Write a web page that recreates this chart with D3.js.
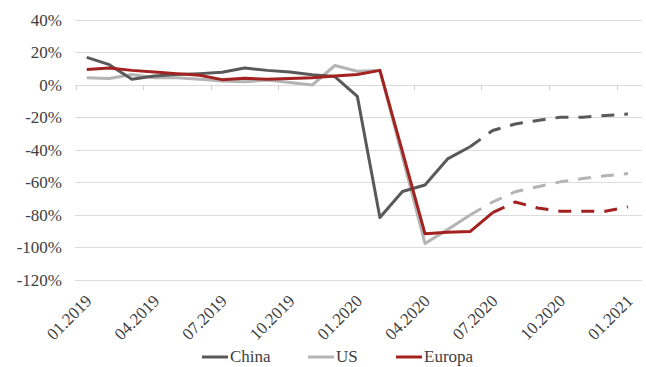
<!DOCTYPE html>
<html>
<head>
<meta charset="utf-8">
<script src="https://cdn.jsdelivr.net/npm/d3@7"></script>
<style>
  html, body { margin: 0; padding: 0; background: #ffffff; }
  svg { display: block; }
  text { font-family: "Liberation Serif", "DejaVu Serif", serif; fill: #404040; }
</style>
</head>
<body>
<svg id="chart" width="646" height="367"></svg>
<script>
// Monthly categories, 01.2019 – 01.2021
const months = [
  "01.2019","02.2019","03.2019","04.2019","05.2019","06.2019","07.2019","08.2019","09.2019",
  "10.2019","11.2019","12.2019","01.2020","02.2020","03.2020","04.2020","05.2020","06.2020",
  "07.2020","08.2020","09.2020","10.2020","11.2020","12.2020","01.2021"
];
const tickLabels = ["01.2019","04.2019","07.2019","10.2019","01.2020","04.2020","07.2020","10.2020","01.2021"];
const yTicks = [40, 20, 0, -20, -40, -60, -80, -100, -120];

// Year-over-year change, % (observed part starts at 01.2019)
const chinaActual = [17, 12.5, 3.5, 5.5, 6.5, 7, 7.8, 10.5, 9, 8, 6.3, 5.2, -7, -81.5, -65.5, -61.5, -45.5, -38];
const usActual = [4.5, 4, 6.5, 4.5, 4.5, 3.5, 2.5, 2, 3, 1.5, 0, 12, 8.5, 9, -44, -97.5, -89, -80];
const europaActual = [9.6, 10.5, 9, 8, 7, 6, 3.3, 4.2, 3.5, 4, 4.5, 5.5, 6.5, 9, -41, -91.6, -90.6, -90.2, -78.5];

// Projection part, each starting at the last observed month
const chinaForecastStart = "06.2020";
const chinaForecast = [-38, -28, -24, -21.8, -19.8, -19.8, -18.8, -17.8];
const usForecastStart = "06.2020";
const usForecast = [-80, -72, -65.7, -62.6, -59.6, -57.5, -55.9, -54.5];
const europaForecastStart = "07.2020";
const europaForecast = [-78.5, -72, -75.7, -77.7, -77.7, -77.7, -75];

const seriesNames = ["China", "US", "Europa"];
const colors = { China: "#595959", US: "#b4b4b4", Europa: "#a3221f" };

const svg = d3.select("#chart");
const plotLeft = 75, plotRight = 642;
const fontSize = 17;

const x = d3.scaleBand().domain(months).range([75.5, 639.2]).paddingInner(0).paddingOuter(0);
const cx = m => x(m) + x.bandwidth() / 2;
const y = d3.scaleLinear().domain([-120, 40]).range([280, 20]);

// Horizontal gridlines
svg.append("g").selectAll("line").data(yTicks).join("line")
  .attr("x1", plotLeft).attr("x2", plotRight)
  .attr("y1", d => y(d)).attr("y2", d => y(d))
  .attr("stroke", "#dcdcdc").attr("stroke-width", 1).attr("shape-rendering", "crispEdges");

// Y axis labels
const yAxis = d3.axisLeft(y).tickValues(yTicks).tickSize(0).tickPadding(0)
  .tickFormat(d => d + "%");
svg.append("g").attr("transform", "translate(62,0)").call(yAxis)
  .call(g => g.select(".domain").remove())
  .selectAll("text")
  .style("font-family", "'Liberation Serif', 'DejaVu Serif', serif")
  .style("font-size", fontSize + "px").attr("fill", "#404040");

// Tick marks on the zero line at quarter boundaries
const tickIdx = tickLabels.map(t => months.indexOf(t));
svg.append("g").selectAll("line").data(tickIdx).join("line")
  .attr("x1", i => Math.round(x(months[i])) + 0.5).attr("x2", i => Math.round(x(months[i])) + 0.5)
  .attr("y1", y(0)).attr("y2", y(0) + 5)
  .attr("stroke", "#d0d0d0").attr("stroke-width", 1);

// Rotated category labels
svg.append("g").selectAll("text").data(tickLabels).join("text")
  .attr("transform", d => `translate(${cx(d) + 6},${302}) rotate(-45)`)
  .attr("text-anchor", "end")
  .attr("font-size", fontSize)
  .text(d => d);

// Lines
const line = d3.line().x(d => cx(d.m)).y(d => y(d.v));
function toPoints(startMonth, values) {
  const s = months.indexOf(startMonth);
  return values.map((v, i) => ({ m: months[s + i], v }));
}
const solid = {
  China: toPoints(months[0], chinaActual),
  US: toPoints(months[0], usActual),
  Europa: toPoints(months[0], europaActual)
};
const dashed = {
  China: toPoints(chinaForecastStart, chinaForecast),
  US: toPoints(usForecastStart, usForecast),
  Europa: toPoints(europaForecastStart, europaForecast)
};

const drawOrder = ["US", "China", "Europa"];
const lines = svg.append("g").attr("fill", "none").attr("stroke-width", 3)
  .attr("stroke-linejoin", "round");
drawOrder.forEach(name => {
  lines.append("path").attr("d", line(solid[name]))
    .attr("stroke", colors[name]);
  lines.append("path").attr("d", line(dashed[name]))
    .attr("stroke", colors[name]).attr("stroke-dasharray", "13,10");
});

// Legend
const legendX = { China: 202, US: 308, Europa: 396 };
const lg = svg.append("g");
seriesNames.forEach(name => {
  const g = lg.append("g").attr("transform", `translate(${legendX[name]},357)`);
  g.append("line").attr("x1", 0).attr("x2", 26).attr("y1", 0).attr("y2", 0)
    .attr("stroke", colors[name]).attr("stroke-width", 3);
  g.append("text").attr("x", 28).attr("y", 5).attr("font-size", fontSize).text(name);
});
</script>
</body>
</html>
